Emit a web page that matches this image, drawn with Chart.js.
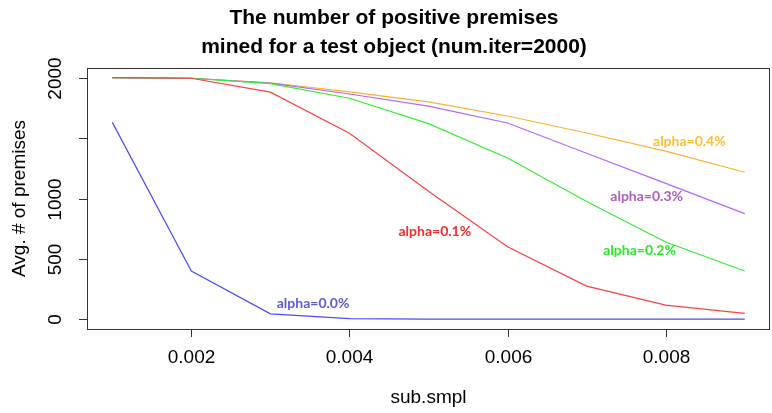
<!DOCTYPE html>
<html>
<head>
<meta charset="utf-8">
<script src="https://cdn.jsdelivr.net/npm/chart.js@4/dist/chart.umd.min.js"></script>
<style>
  html, body { margin: 0; padding: 0; background: #fff; }
  #wrap { width: 772px; height: 413px; }
</style>
</head>
<body>
<div id="wrap"><canvas id="myChart"></canvas></div>
<script>
// sub.smpl values (x axis)
const subSmpl = [0.001, 0.002, 0.003, 0.004, 0.005, 0.006, 0.007, 0.008, 0.009];
// avg # of premises for each alpha
const alpha00 = [1630, 400, 45, 6, 2, 1, 1, 1, 1];
const alpha01 = [2000, 1995, 1880, 1540, 1060, 600, 275, 117, 50];
const alpha02 = [2000, 1995, 1950, 1830, 1620, 1335, 975, 640, 400];
const alpha03 = [2000, 1995, 1955, 1865, 1765, 1625, 1375, 1125, 875];
const alpha04 = [2000, 1995, 1958, 1883, 1800, 1683, 1542, 1392, 1217];
const seriesNames = ['alpha=0.0%', 'alpha=0.1%', 'alpha=0.2%', 'alpha=0.3%', 'alpha=0.4%'];
const xTicks = [0.002, 0.004, 0.006, 0.008];
const yTicks = [0, 500, 1000, 1500, 2000];
const yTickLabels = ['0', '500', '1000', '', '2000'];

const lineColors = ['#4a4aff', '#ff4040', '#33ee33', '#b266ff', '#ffb030'];
const textColors = ['#5c5cd6', '#ff2a2a', '#22ee22', '#b05cc0', '#ffc030'];
// where the in-plot labels sit (data units)
const labelAt = [[0.00354, 133], [0.00508, 725], [0.00767, 567], [0.00776, 1017], [0.0083, 1475]];

function pts(arr) {
    return arr.map(function (v, i) { return { x: subSmpl[i], y: v }; });
}

const decor = {
    id: 'decor',
    afterDraw: function (chart) {
        const c = chart.ctx;
        const a = chart.chartArea;
        const xs = chart.scales.x, ys = chart.scales.y;
        c.save();
        // box
        c.strokeStyle = '#333';
        c.lineWidth = 1;
        c.strokeRect(a.left + 0.5, a.top + 0.5, a.right - a.left - 1, a.bottom - a.top);
        // x ticks
        c.fillStyle = '#000';
        c.font = '19px "Liberation Sans", Arial, sans-serif';
        c.textAlign = 'center';
        c.textBaseline = 'middle';
        xTicks.forEach(function (t) {
            const px = Math.round(xs.getPixelForValue(t)) + 0.5;
            c.beginPath();
            c.moveTo(px, a.bottom);
            c.lineTo(px, a.bottom + 8);
            c.stroke();
            c.fillText(t.toFixed(3), px, a.bottom + 29);
        });
        // y ticks, rotated labels
        yTicks.forEach(function (t, i) {
            const py = Math.round(ys.getPixelForValue(t)) + 0.5;
            c.beginPath();
            c.moveTo(a.left, py);
            c.lineTo(a.left - 8, py);
            c.stroke();
            if (yTickLabels[i]) {
                c.save();
                c.translate(a.left - 31, py);
                c.rotate(-Math.PI / 2);
                c.fillText(yTickLabels[i], 0, 0);
                c.restore();
            }
        });
        // axis titles
        c.fillText('sub.smpl', xs.getPixelForValue(0.005), 398);
        c.save();
        c.translate(20, ys.getPixelForValue(1000));
        c.rotate(-Math.PI / 2);
        c.fillText('Avg. # of premises', 0, 0);
        c.restore();
        // main title
        c.font = 'bold 21px "Liberation Sans", Arial, sans-serif';
        c.fillText('The number of positive premises', 394, 18);
        c.fillText('mined for a test object (num.iter=2000)', 394, 47);
        // series labels
        c.font = 'bold 14px Lato, "Open Sans", sans-serif';
        seriesNames.forEach(function (n, i) {
            c.fillStyle = textColors[i];
            c.fillText(n, xs.getPixelForValue(labelAt[i][0]), ys.getPixelForValue(labelAt[i][1]));
        });
        c.restore();
    }
};

const ctx = document.getElementById('myChart');
new Chart(ctx, {
    type: 'line',
    data: {
        datasets: [alpha00, alpha01, alpha02, alpha03, alpha04].map(function (d, i) {
            return {
                label: seriesNames[i],
                data: pts(d),
                borderColor: lineColors[i],
                borderWidth: 1.2,
                pointRadius: 0,
                tension: 0,
                fill: false
            };
        })
    },
    options: {
        responsive: true,
        maintainAspectRatio: false,
        animation: false,
        layout: { padding: { top: 68, right: 2, left: 0, bottom: 0 } },
        plugins: {
            legend: { display: false },
            tooltip: { enabled: false }
        },
        scales: {
            x: {
                type: 'linear',
                min: 0.00068,
                max: 0.00932,
                grid: { display: false },
                border: { display: false },
                ticks: { display: false },
                afterFit: function (s) { s.height = 84; }
            },
            y: {
                min: -80,
                max: 2080,
                grid: { display: false },
                border: { display: false },
                ticks: { display: false },
                afterFit: function (s) { s.width = 87; }
            }
        }
    },
    plugins: [decor]
});
</script>
</body>
</html>
